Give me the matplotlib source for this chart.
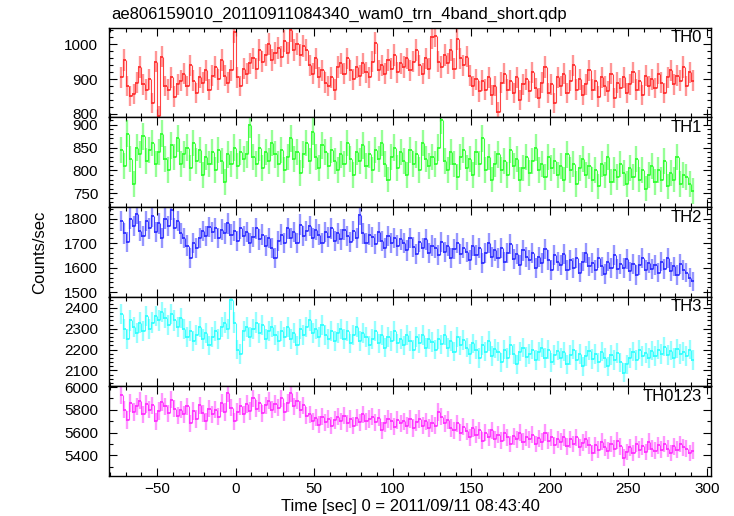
import numpy as np
import matplotlib.pyplot as plt
from matplotlib.ticker import MultipleLocator

plt.rcParams['font.family'] = ['Liberation Sans', 'DejaVu Sans']

# 2 s bins, first bin centre at -73 s
time_start, time_stop, bin_size = -73, 291, 2

th0 = [905, 955, 880, 852, 858, 890, 935, 885, 870, 900,
       830, 950, 795, 965, 880, 870, 905, 850, 885, 895,
       915, 880, 940, 895, 860, 905, 890, 925, 870, 910,
       935, 900, 955, 910, 890, 925, 1035, 905, 880, 930,
       915, 945, 960, 930, 985, 950, 970, 1000, 955, 975,
       990, 965, 1010, 975, 1040, 985, 1000, 970, 995, 985,
       940, 915, 960, 905, 925, 890, 880, 905, 870, 935,
       945, 915, 960, 925, 900, 935, 910, 945, 920, 905,
       950, 1005, 925, 940, 915, 955, 930, 970, 920, 945,
       935, 960, 925, 950, 985, 940, 915, 960, 930, 1020,
       1025, 950, 935, 970, 945, 985, 930, 1015, 960, 940,
       965, 910, 880, 900, 865, 895, 870, 905, 855, 880,
       805, 890, 915, 870, 895, 860, 905, 840, 885, 900,
       865, 920, 875, 845, 890, 935, 860, 885, 830, 905,
       880, 915, 860, 895, 940, 870, 900, 855, 885, 925,
       870, 895, 850, 905, 880, 865, 915, 845, 890, 875,
       905, 860, 885, 920, 870, 895, 855, 910, 880, 900,
       875, 915, 890, 860, 905, 925, 885, 910, 895, 935,
       880, 920, 895]

th1 = [845, 810, 880, 825, 770, 850, 835, 875, 820, 845,
       860, 815, 840, 880, 825, 800, 855, 830, 870, 815,
       835, 850, 805, 860, 820, 845, 790, 830, 815, 840,
       800, 845, 820, 775, 835, 815, 850, 810, 840, 825,
       835, 900, 830, 815, 850, 805, 840, 820, 860, 835,
       815, 845, 800, 830, 870, 825, 840, 795, 835, 860,
       820, 885, 830, 805, 855, 840, 810, 845, 820, 800,
       835, 815, 860, 825, 790, 840, 820, 855, 810, 835,
       800, 845, 825, 860, 815, 780, 830, 850, 805, 840,
       820, 790, 845, 815, 835, 800, 860, 825, 810, 830,
       815, 850, 910, 820, 800, 840, 815, 785, 830, 845,
       805, 825, 790, 840, 815, 870, 800, 830, 780, 815,
       835, 800, 820, 790, 845, 810, 825, 780, 805, 830,
       795, 820, 850, 800, 815, 785, 830, 805, 820, 790,
       810, 780, 835, 800, 815, 770, 805, 825, 790, 810,
       780, 800, 765, 815, 790, 830, 775, 800, 785, 815,
       795, 770, 805, 785, 825, 780, 800, 760, 790, 810,
       775, 800, 780, 820, 765, 795, 780, 830, 770, 790,
       785, 770, 755]

th2 = [1790, 1740, 1705, 1800, 1770, 1820, 1750, 1730, 1790, 1760,
       1810, 1745, 1780, 1720, 1800, 1770, 1835, 1760, 1790, 1740,
       1720, 1690, 1640, 1700, 1680, 1720, 1750, 1730, 1765, 1745,
       1760, 1720, 1755, 1740, 1780, 1735, 1750, 1710, 1760, 1730,
       1745, 1700, 1725, 1760, 1715, 1735, 1690, 1720, 1680, 1640,
       1710, 1735, 1700, 1760, 1720, 1745, 1700, 1775, 1730, 1750,
       1770, 1720, 1755, 1735, 1700, 1745, 1725, 1760, 1710, 1740,
       1715, 1755, 1730, 1705, 1750, 1720, 1815, 1740, 1700, 1735,
       1725, 1695, 1745, 1710, 1680, 1730, 1700, 1720, 1690, 1715,
       1700, 1670, 1720, 1685, 1655, 1705, 1680, 1715, 1660, 1690,
       1680, 1650, 1705, 1665, 1690, 1640, 1675, 1700, 1655, 1680,
       1665, 1630, 1690, 1650, 1680, 1620, 1660, 1700, 1645, 1670,
       1640, 1680, 1625, 1660, 1695, 1635, 1655, 1610, 1670, 1645,
       1630, 1660, 1600, 1645, 1620, 1675, 1630, 1590, 1650, 1625,
       1610, 1655, 1590, 1630, 1600, 1640, 1580, 1625, 1660, 1605,
       1620, 1590, 1640, 1605, 1575, 1625, 1600, 1650, 1595, 1615,
       1600, 1635, 1585, 1615, 1570, 1610, 1640, 1590, 1620, 1595,
       1610, 1580, 1625, 1595, 1640, 1585, 1605, 1570, 1615, 1590,
       1580, 1560, 1545]

th3 = [2370, 2300, 2250, 2340, 2310, 2280, 2330, 2290, 2360, 2300,
       2330, 2360, 2340, 2380, 2350, 2320, 2370, 2340, 2310, 2350,
       2300, 2260, 2290, 2240, 2270, 2310, 2250, 2280, 2220, 2260,
       2290, 2250, 2310, 2330, 2300, 2440, 2330, 2200, 2180, 2290,
       2310, 2260, 2300, 2330, 2280, 2320, 2250, 2290, 2310, 2270,
       2240, 2290, 2260, 2310, 2250, 2280, 2220, 2300, 2270, 2310,
       2340, 2280, 2300, 2260, 2320, 2270, 2250, 2290, 2240, 2280,
       2300, 2250, 2290, 2230, 2270, 2310, 2240, 2280, 2260, 2220,
       2250, 2290, 2230, 2270, 2210, 2260, 2240, 2290, 2230, 2250,
       2220, 2270, 2240, 2200, 2260, 2230, 2270, 2210, 2250, 2235,
       2200, 2250, 2225, 2270, 2210, 2240, 2190, 2260, 2220, 2245,
       2210, 2180, 2230, 2200, 2160, 2220, 2190, 2240, 2170, 2205,
       2190, 2140, 2200, 2160, 2220, 2180, 2130, 2190, 2210, 2165,
       2180, 2200, 2150, 2190, 2210, 2160, 2200, 2140, 2175, 2195,
       2160, 2190, 2130, 2175, 2200, 2150, 2180, 2120, 2170, 2195,
       2155, 2180, 2140, 2190, 2160, 2120, 2175, 2150, 2185, 2140,
       2090, 2130, 2160, 2190, 2150, 2200, 2170, 2185, 2160, 2195,
       2170, 2200, 2180, 2215, 2175, 2195, 2160, 2205, 2180, 2190,
       2170, 2200, 2150]

th0123 = [5930, 5800, 5710, 5860, 5780, 5830, 5880, 5760, 5850, 5800,
          5840, 5700, 5790, 5870, 5830, 5770, 5890, 5810, 5750, 5800,
          5760, 5830, 5680, 5790, 5720, 5840, 5770, 5700, 5810, 5760,
          5800, 5740, 5860, 5780, 5950, 5820, 5700, 5780, 5830, 5760,
          5850, 5790, 5900, 5810, 5860, 5770, 5840, 5880, 5800, 5850,
          5820, 5900, 5780, 5860, 5950, 5830, 5880, 5800, 5840, 5750,
          5760, 5700, 5730, 5670, 5740, 5690, 5720, 5660, 5710, 5740,
          5700, 5750, 5680, 5720, 5660, 5730, 5690, 5760, 5700, 5720,
          5740, 5690, 5730, 5620, 5680, 5720, 5700, 5650, 5710, 5680,
          5700, 5660, 5720, 5640, 5690, 5720, 5660, 5700, 5640, 5680,
          5660, 5780, 5740, 5680, 5710, 5640, 5620, 5680, 5600, 5650,
          5610, 5560, 5640, 5580, 5620, 5530, 5600, 5560, 5620, 5540,
          5580, 5530, 5600, 5560, 5500, 5570, 5540, 5600, 5520, 5560,
          5540, 5580, 5500, 5550, 5520, 5600, 5530, 5560, 5490, 5540,
          5520, 5560, 5480, 5540, 5500, 5560, 5470, 5510, 5540, 5490,
          5420, 5490, 5450, 5520, 5470, 5440, 5500, 5460, 5530, 5480,
          5380, 5430, 5470, 5420, 5500, 5450, 5480, 5430, 5520, 5460,
          5440, 5490, 5450, 5500, 5460, 5420, 5480, 5450, 5500, 5470,
          5460, 5420, 5440]

bands = [th0, th1, th2, th3, th0123]
names = ['TH0', 'TH1', 'TH2', 'TH3', 'TH0123']
colors = ['#ff2e2e', '#2eff2e', '#2e2eff', '#2effff', '#ff2eff']
ylims = [(790, 1048), (720, 916), (1482, 1847), (2024, 2454), (5219, 6006)]
major = [100, 50, 100, 100, 200]
minor = [20, 10, 20, 20, 100]

t = np.arange(time_start, time_stop + 1, bin_size)

fig = plt.figure(figsize=(7.34, 5.16), dpi=100)
top, bottom = 1 - 27.7 / 516, 1 - 476 / 516
left, right = 109.3 / 734, 710.7 / 734
h = (top - bottom) / 5

for k, rate in enumerate(bands):
    rate = np.array(rate, dtype=float)
    err = np.sqrt(rate)
    ax = fig.add_axes([left, top - (k + 1) * h, right - left, h])
    ax.vlines(t, rate - err, rate + err, color=colors[k], alpha=0.5, lw=1.7)
    ax.hlines(rate, t - bin_size / 2, t + bin_size / 2, color=colors[k], lw=1.3)
    ax.vlines(t[1:] - bin_size / 2, rate[:-1], rate[1:], color=colors[k],
              lw=0.8, alpha=0.9)

    ax.set_xlim(-80.5, 302.5)
    ax.set_ylim(*ylims[k])
    ax.xaxis.set_major_locator(MultipleLocator(50))
    ax.xaxis.set_minor_locator(MultipleLocator(10))
    ax.yaxis.set_major_locator(MultipleLocator(major[k]))
    ax.yaxis.set_minor_locator(MultipleLocator(minor[k]))
    ax.tick_params(which='both', direction='in', top=True, right=True,
                   labelsize=11, width=0.8)
    ax.tick_params(which='major', length=6)
    ax.tick_params(which='minor', length=3)
    ax.tick_params(axis='y', pad=8)
    ax.tick_params(axis='x', pad=4)
    for s in ax.spines.values():
        s.set_linewidth(1.0)
    if k < 4:
        ax.tick_params(labelbottom=False)
    ax.text(0.985, 0.97, names[k], transform=ax.transAxes, ha='right',
            va='top', fontsize=12)

fig.text(left + 0.002, 1 - 14 / 516, 'ae806159010_20110911084340_wam0_trn_4band_short.qdp',
         ha='left', va='center', fontsize=12)
fig.text(40 / 734, (top + bottom) / 2, 'Counts/sec', rotation=90,
         ha='center', va='center', fontsize=12)
fig.text((left + right) / 2, 1 - 507 / 516, 'Time [sec] 0 = 2011/09/11 08:43:40',
         ha='center', va='center', fontsize=12)

fig.savefig('out.png', dpi=100)
